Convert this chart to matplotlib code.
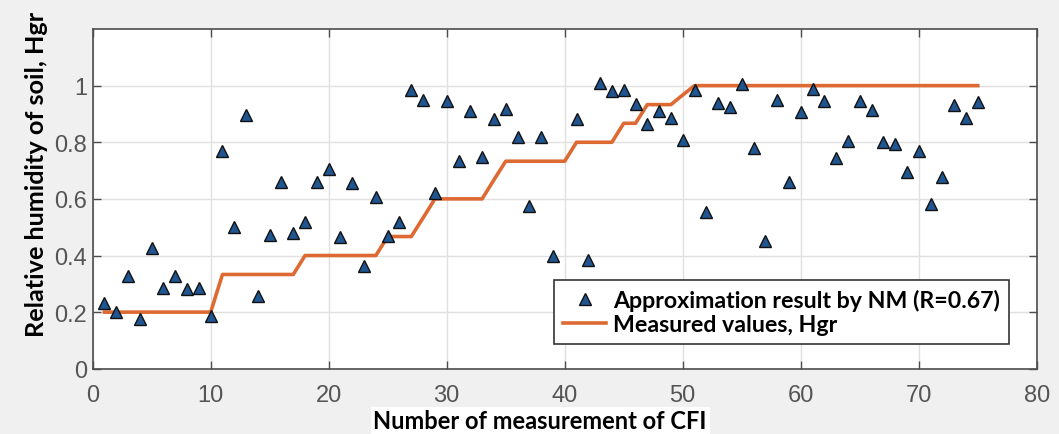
import matplotlib
matplotlib.use("Agg")
import matplotlib.pyplot as plt
from matplotlib import font_manager

# Measurement numbers
x_idx = list(range(1, 76))

# Approximation result by the neural model
approx = [
    0.233, 0.200, 0.327, 0.177, 0.428, 0.286, 0.327, 0.282, 0.286, 0.186,
    0.769, 0.502, 0.897, 0.256, 0.473, 0.660, 0.479, 0.520, 0.660, 0.705,
    0.467, 0.655, 0.362, 0.608, 0.470, 0.520, 0.986, 0.948, 0.620, 0.945,
    0.733, 0.912, 0.748, 0.881, 0.916, 0.819, 0.575, 0.819, 0.400, 0.230,
    0.883, 0.383, 1.008, 0.980, 0.983, 0.936, 0.866, 0.912, 0.887, 0.807,
    0.985, 0.553, 0.938, 0.924, 1.006, 0.781, 0.450, 0.948, 0.660, 0.907,
    0.989, 0.944, 0.743, 0.803, 0.944, 0.915, 0.801, 0.795, 0.696, 0.769,
    0.582, 0.678, 0.932, 0.887, 0.942,
]

# Measured relative humidity
measured = (
    [0.2] * 10 + [0.333] * 7 + [0.4] * 7 + [0.467] * 3 + [0.533]
    + [0.6] * 5 + [0.667] + [0.733] * 6 + [0.8] * 4 + [0.867] * 2
    + [0.933] * 3 + [0.967] + [1.0] * 25
)

x_ticks = [0, 10, 20, 30, 40, 50, 60, 70, 80]
y_ticks = [0, 0.2, 0.4, 0.6, 0.8, 1]
y_tick_labels = ["0", "0.2", "0.4", "0.6", "0.8", "1"]

installed = {f.name for f in font_manager.fontManager.ttflist}
tick_font = [f for f in ["Liberation Sans", "DejaVu Sans"] if f in installed]
label_font = [f for f in ["Lato", "Open Sans", "DejaVu Sans"] if f in installed]

fig = plt.figure(figsize=(10.59, 4.35), dpi=100, facecolor="#f0f0f0")
ax = fig.add_axes([0.0875, 0.150, 0.8915, 0.781])
ax.set_facecolor("white")

ax.plot(x_idx, approx, linestyle="none", marker="^", markersize=8,
        markerfacecolor="#1f5590", markeredgecolor="#111111", markeredgewidth=1.0,
        label="Approximation result by NM (R=0.67)", zorder=3)
ax.plot(x_idx, measured, color="#de6a33", linewidth=2.6,
        label="Measured values, Hgr", zorder=2)

ax.set_xlim(0, 80)
ax.set_ylim(0, 1.2)
ax.set_xticks(x_ticks)
ax.set_yticks(y_ticks)
ax.set_yticklabels(y_tick_labels)
ax.grid(True, color="#e0e0e0", linewidth=1.0, zorder=0)
ax.set_axisbelow(True)

ax.tick_params(direction="in", length=6, width=1, color="#4d4d4d",
               top=True, right=True, labelsize=17, labelcolor="#555555")
ax.tick_params(axis="x", pad=11)
ax.tick_params(axis="y", pad=4)
for lab in ax.get_xticklabels() + ax.get_yticklabels():
    lab.set_family(tick_font)
for sp in ax.spines.values():
    sp.set_color("#4d4d4d")
    sp.set_linewidth(1.2)

leg = ax.legend(loc="lower right", bbox_to_anchor=(0.971, 0.072),
                prop={"family": label_font, "weight": "bold", "size": 16.7},
                frameon=True, fancybox=False, edgecolor="#333333",
                framealpha=1.0, borderpad=0.4, labelspacing=0.12,
                handlelength=1.85, handletextpad=0.3, borderaxespad=0)
leg.get_frame().set_linewidth(1.2)
leg.set_zorder(5)

fig.text(0.034, 0.598, "Relative humidity of soil, Hgr", rotation=90,
         ha="center", va="center", family=label_font, weight="bold",
         size=18.2, color="black")
fig.text(0.51, 0.030, "Number of measurement of CFI", ha="center", va="center",
         family=label_font, weight="bold", size=17, color="black",
         bbox=dict(facecolor="white", edgecolor="none", pad=2))

fig.savefig("out.png", dpi=100, facecolor=fig.get_facecolor())
